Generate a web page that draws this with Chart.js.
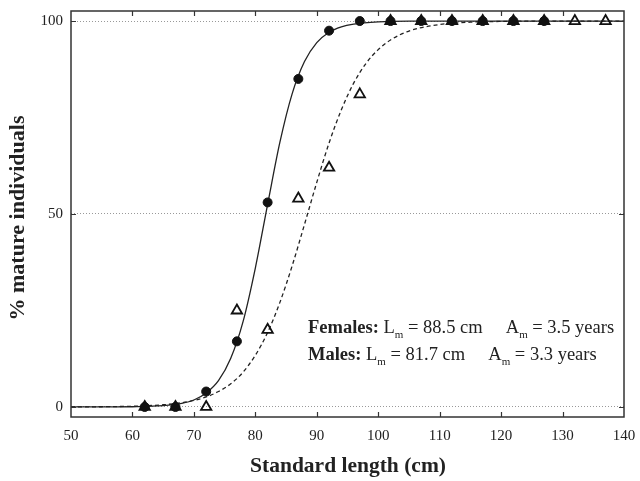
<!DOCTYPE html>
<html>
<head>
<meta charset="utf-8">
<script src="https://cdn.jsdelivr.net/npm/chart.js@4"></script>
<style>
html,body{margin:0;padding:0;background:#fff;}
canvas{display:block;}
</style>
</head>
<body>
<canvas id="c" width="640" height="481"></canvas>
<script>
// ---- data ----
const xTicks = [50, 60, 70, 80, 90, 100, 110, 120, 130, 140];
const yTicks = [0, 50, 100];

const maleLengths = [62, 67, 72, 77, 82, 87, 92, 97, 102, 107, 112, 117, 122, 127];
const maleMature  = [0, 0, 4, 17, 53, 85, 97.5, 100, 100, 100, 100, 100, 100, 100];

const femaleLengths = [62, 67, 72, 77, 82, 87, 92, 97, 102, 107, 112, 117, 122, 127, 132, 137];
const femaleMature  = [0, 0, 0, 25, 20, 54, 62, 81, 100, 100, 100, 100, 100, 100, 100, 100];

// fitted ogives
const maleCurveX = [50, 55, 60, 65, 68, 70, 72, 74, 76, 78, 80, 82, 84, 86, 88, 90, 92, 94, 96, 100, 105, 110, 120, 130, 140];
const maleCurveY = [0, 0.01, 0.06, 0.34, 0.94, 1.8, 3.6, 6.8, 12.6, 22.1, 36, 52.5, 68.6, 81.2, 89.5, 94.4, 97.1, 98.5, 99.2, 99.8, 100, 100, 100, 100, 100];

const femaleCurveX = [50, 55, 60, 65, 68, 70, 72, 74, 76, 78, 80, 82, 84, 86, 88, 90, 92, 94, 96, 98, 100, 102, 105, 110, 115, 120, 130, 140];
const femaleCurveY = [0.02, 0.06, 0.19, 0.57, 1.1, 1.7, 2.6, 4.0, 6.0, 9.0, 13.4, 19.3, 27.1, 36.6, 47.3, 58.2, 68.4, 77.0, 83.9, 89.0, 92.6, 95.1, 97.4, 99.1, 99.7, 99.9, 100, 100];

const xTitle = 'Standard length (cm)';
const yTitle = '% mature individuals';
const noteFemales = [['Females: ', true], ['L', false], ['m', 'sub'], [' = 88.5 cm     A', false], ['m', 'sub'], [' = 3.5 years', false]];
const noteMales   = [['Males: ', true], ['L', false], ['m', 'sub'], [' = 81.7 cm     A', false], ['m', 'sub'], [' = 3.3 years', false]];

// ---- helpers ----
const pts = (xs, ys) => xs.map((x, i) => ({x: x, y: ys[i]}));
const SERIF = '"Liberation Serif", "Times New Roman", serif';
const INK = '#222';

const decor = {
  id: 'decor',
  afterDraw(chart) {
    const ctx = chart.ctx, a = chart.chartArea;
    const xs = chart.scales.x, ys = chart.scales.y;
    ctx.save();
    // frame
    ctx.strokeStyle = '#333';
    ctx.lineWidth = 1.5;
    ctx.strokeRect(a.left, a.top, a.right - a.left, a.bottom - a.top);
    // inward tick marks
    ctx.lineWidth = 1.2;
    ctx.beginPath();
    xTicks.forEach(v => {
      if (v <= xs.min || v >= xs.max) return;
      const px = Math.round(xs.getPixelForValue(v)) + 0.5;
      ctx.moveTo(px, a.bottom); ctx.lineTo(px, a.bottom - 5);
      ctx.moveTo(px, a.top); ctx.lineTo(px, a.top + 5);
    });
    yTicks.forEach(v => {
      const py = Math.round(ys.getPixelForValue(v)) + 0.5;
      ctx.moveTo(a.left, py); ctx.lineTo(a.left + 5, py);
      ctx.moveTo(a.right, py); ctx.lineTo(a.right - 5, py);
    });
    ctx.stroke();

    // axis titles
    ctx.fillStyle = INK;
    ctx.textAlign = 'center';
    ctx.textBaseline = 'middle';
    ctx.font = 'bold 21.5px ' + SERIF;
    ctx.fillText(xTitle, 348, 466);
    ctx.save();
    ctx.translate(18, 218);
    ctx.rotate(-Math.PI / 2);
    ctx.font = 'bold 22px ' + SERIF;
    ctx.fillText(yTitle, 0, 0);
    ctx.restore();

    // annotation
    const drawRich = (parts, x, y) => {
      ctx.textAlign = 'left';
      ctx.textBaseline = 'alphabetic';
      let cx = x;
      parts.forEach(([t, s]) => {
        if (s === 'sub') {
          ctx.font = '11px ' + SERIF;
          ctx.fillText(t, cx, y + 5);
        } else {
          ctx.font = (s ? 'bold ' : '') + '18.5px ' + SERIF;
          ctx.fillText(t, cx, y);
        }
        cx += ctx.measureText(t).width;
      });
    };
    drawRich(noteFemales, 308, 333);
    drawRich(noteMales, 308, 360);
    ctx.restore();
  }
};

new Chart(document.getElementById('c'), {
  type: 'scatter',
  data: {
    datasets: [
      {
        label: 'Males',
        data: pts(maleLengths, maleMature),
        pointStyle: 'circle',
        pointRadius: 4.5,
        backgroundColor: '#111',
        borderColor: '#111',
        borderWidth: 1,
        order: 0
      },
      {
        label: 'Females',
        data: pts(femaleLengths, femaleMature),
        pointStyle: 'triangle',
        pointRadius: 6,
        backgroundColor: 'rgba(255,255,255,0)',
        borderColor: '#111',
        borderWidth: 1.8,
        order: 1
      },
      {
        type: 'line',
        label: 'Males fit',
        data: pts(maleCurveX, maleCurveY),
        borderColor: '#222',
        borderWidth: 1.3,
        pointRadius: 0,
        cubicInterpolationMode: 'monotone',
        fill: false,
        order: 2
      },
      {
        type: 'line',
        label: 'Females fit',
        data: pts(femaleCurveX, femaleCurveY),
        borderColor: '#222',
        borderWidth: 1.3,
        borderDash: [4, 3],
        pointRadius: 0,
        cubicInterpolationMode: 'monotone',
        fill: false,
        order: 3
      }
    ]
  },
  options: {
    responsive: false,
    animation: false,
    events: [],
    layout: { padding: { top: 11, right: 16, left: 0, bottom: 0 } },
    plugins: { legend: { display: false }, tooltip: { enabled: false } },
    scales: {
      x: {
        type: 'linear',
        min: 50, max: 140,
        afterBuildTicks: s => { s.ticks = xTicks.map(v => ({value: v})); },
        afterFit: s => { s.height = 64; s.paddingLeft = 0; s.paddingRight = 0; },
        grid: { display: false, drawTicks: false },
        border: { display: false },
        ticks: { padding: 10, color: INK, font: { family: SERIF, size: 15 }, maxRotation: 0 }
      },
      y: {
        type: 'linear',
        min: -2.6, max: 102.6,
        afterBuildTicks: s => { s.ticks = yTicks.map(v => ({value: v})); },
        afterFit: s => { s.width = 71; s.paddingTop = 0; s.paddingBottom = 0; },
        grid: { display: true, drawTicks: false, color: '#999', lineWidth: 1 },
        border: { display: false, dash: [1, 2] },
        ticks: { padding: 8, color: INK, font: { family: SERIF, size: 15 } }
      }
    }
  },
  plugins: [decor]
});
</script>
</body>
</html>
